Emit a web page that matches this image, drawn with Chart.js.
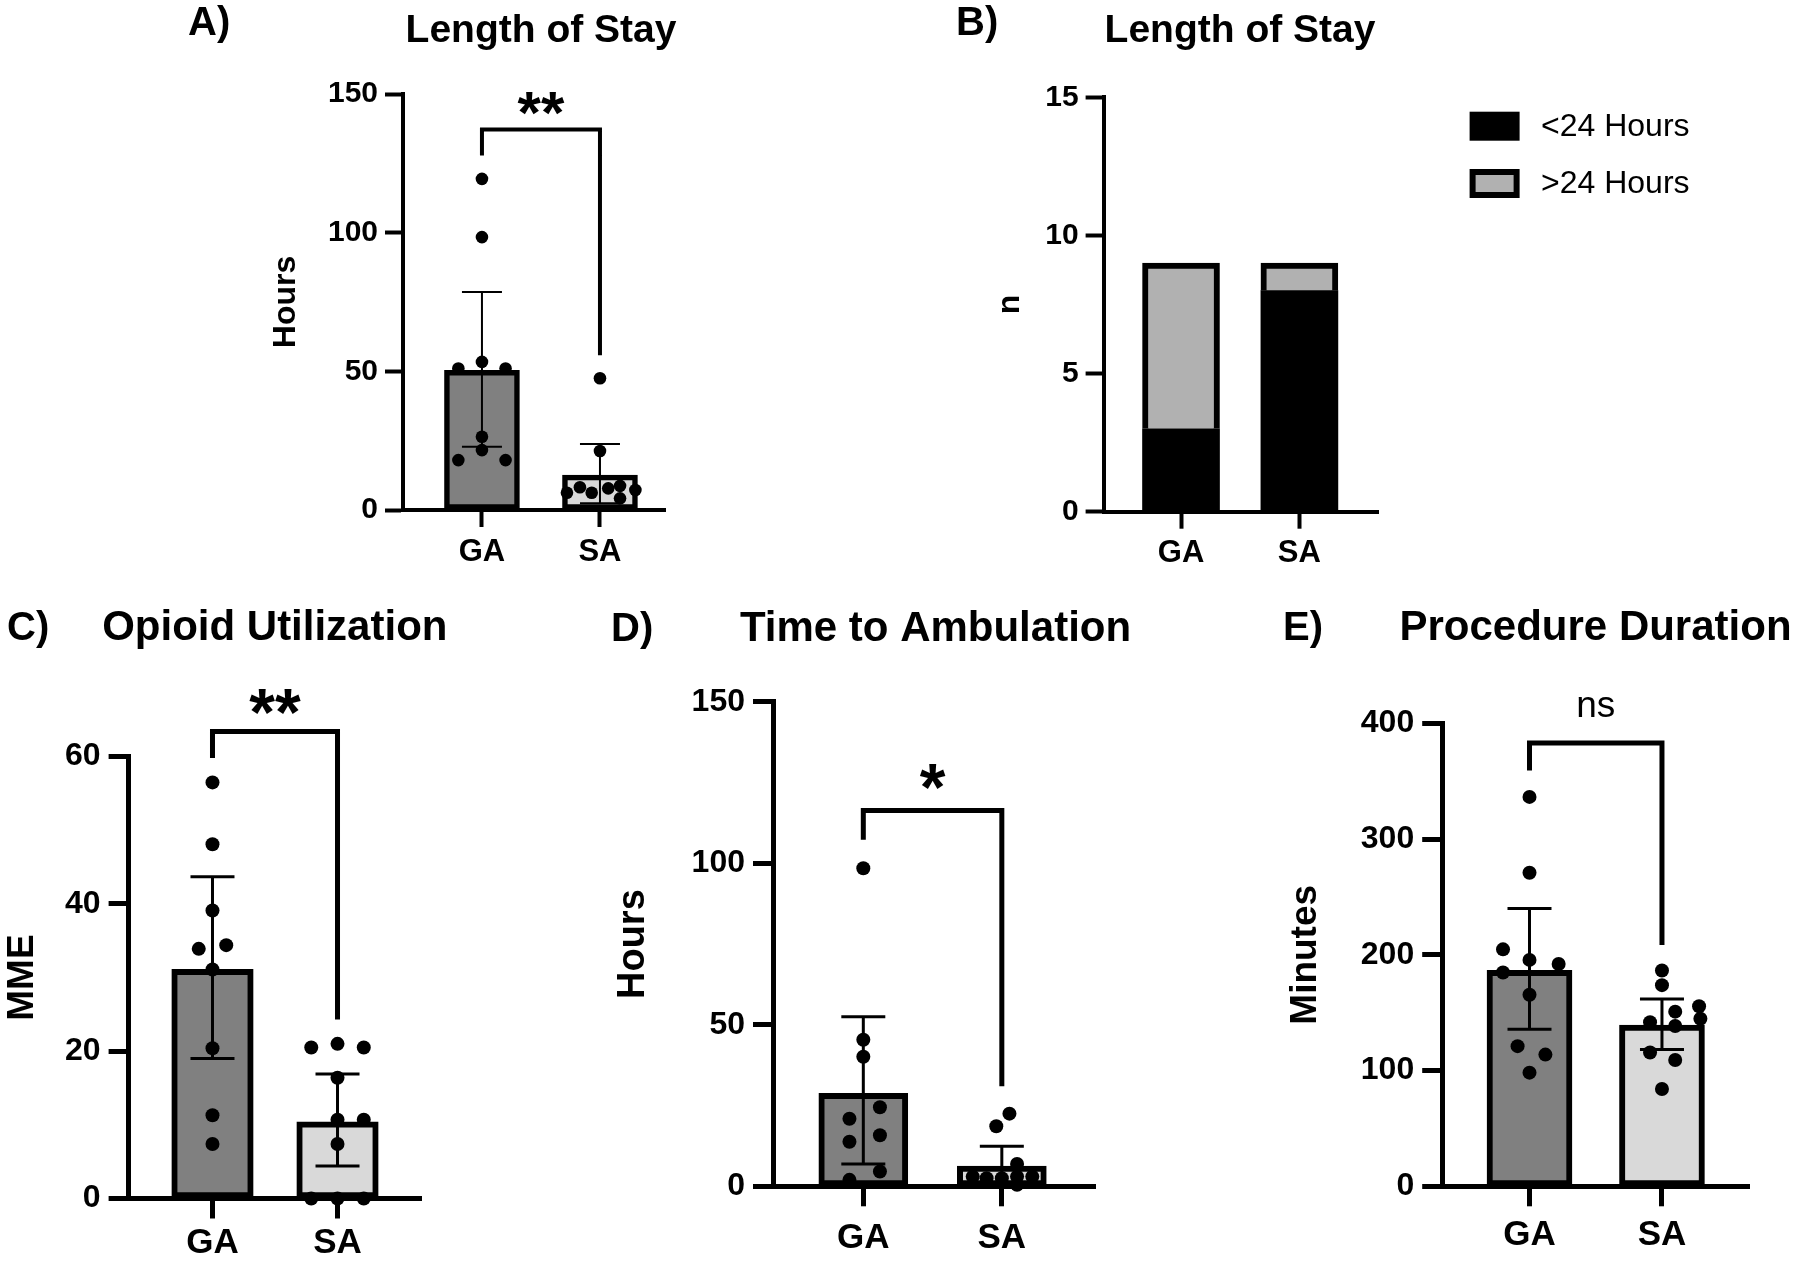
<!DOCTYPE html>
<html>
<head>
<meta charset="utf-8">
<script src="https://cdn.jsdelivr.net/npm/chart.js@4.4.1/dist/chart.umd.min.js"></script>
<style>
  html, body { margin: 0; padding: 0; background: #fff; }
  #page { position: relative; width: 1800px; height: 1261px; overflow: hidden; background: #fff; }
  .panel { position: absolute; }
</style>
</head>
<body>
<div id="page">
  <div class="panel" style="left:170px;top:0px"><canvas id="chartA" width="520" height="600"></canvas></div>
  <div class="panel" style="left:940px;top:0px"><canvas id="chartB" width="860" height="600"></canvas></div>
  <div class="panel" style="left:0px;top:590px"><canvas id="chartC" width="460" height="671"></canvas></div>
  <div class="panel" style="left:560px;top:590px"><canvas id="chartD" width="580" height="671"></canvas></div>
  <div class="panel" style="left:1240px;top:590px"><canvas id="chartE" width="560" height="671"></canvas></div>
</div>
<script>
const groups = ["GA", "SA"]

// A) length of stay, hours (one dot per patient)
const losGA = [119.4, 98.4, 53.4, 51, 51, 26.4, 21.6, 18, 18]
const losSA = [47.5, 21.3, 6.2, 8.2, 6.2, 7.8, 8.7, 4.2, 7.2]
const losJitterGA = [0, 0, 0, -0.2, 0.2, 0, 0, -0.2, 0.2]
const losJitterSA = [0, 0, -0.28, -0.17, -0.07, 0.07, 0.17, 0.17, 0.3]
const losMean = [50.4, 12.6]
const losErrLow = [22.8, 2.4]
const losErrHigh = [78.6, 23.8]
const losBracket = [127.8, 137.2, 55.8]
const losSig = "**"
const losSigY = 146.7

// B) length of stay split at 24 h, counts
const stayLabels = ["<24 Hours", ">24 Hours"]
const stayUnder24 = [3, 8]
const stayOver24 = [6, 1]

// C) opioid utilization, MME
const mmeGA = [56.5, 48.1, 39.1, 33.9, 34.4, 31.1, 20.4, 11.3, 7.4]
const mmeSA = [20.5, 21, 20.5, 16.4, 10.7, 10.7, 7.4, 0, 0, 0]
const mmeJitterGA = [0, 0, 0, -0.11, 0.11, 0, 0, 0, 0]
const mmeJitterSA = [-0.21, 0, 0.21, 0, 0, 0.21, 0, -0.21, 0, 0.21]
const mmeMean = [31.1, 10.4]
const mmeErrLow = [19.0, 4.4]
const mmeErrHigh = [43.7, 16.9]
const mmeBracket = [59.8, 63.4, 24.3]
const mmeSig = "**"
const mmeSigY = 67.5

// D) time to ambulation, hours
const ambGA = [98.5, 45.4, 40.1, 24.5, 20.9, 15.8, 13.8, 4.6, 2.0]
const ambSA = [22.5, 18.6, 6.9, 3.0, 2.5, 2.5, 3.0, 3.0, 0.5]
const ambJitterGA = [0, 0, 0, 0.12, -0.1, 0.12, -0.1, 0.12, -0.1]
const ambJitterSA = [0.055, -0.04, 0.11, -0.21, -0.11, 0, 0.11, 0.22, 0.11]
const ambMean = [28.8, 6.3]
const ambErrLow = [6.9, 0.3]
const ambErrHigh = [52.5, 12.4]
const ambBracket = [107.3, 116.4, 31.0]
const ambSig = "*"
const ambSigY = 126.8

// E) procedure duration, minutes
const durGA = [336.4, 270.9, 204.7, 195.6, 192, 184.7, 165.5, 121.1, 113.8, 98.2]
const durSA = [186.5, 173.8, 155.6, 150.9, 141.8, 144.7, 138.5, 115.6, 109.1, 84.0]
const durJitterGA = [0, 0, -0.2, 0, 0.22, -0.2, 0, -0.09, 0.12, 0]
const durJitterSA = [0, 0, 0.28, 0.1, -0.09, 0.29, 0.1, -0.09, 0.1, 0]
const durMean = [186.5, 139.3]
const durErrLow = [135.6, 118.2]
const durErrHigh = [240, 161.8]
const durBracket = [359.3, 382.9, 208.4]
const durSig = "ns"
const durSigY = 413.8

const FONT = '"Liberation Sans", Arial, Helvetica, sans-serif'
Chart.defaults.font.family = FONT
Chart.defaults.color = "#000"

const barColors = ["#808080", "#d9d9d9"]

// sizes of the two rows of the figure
const rowStyle = {
  top: { tick: 30, tickPad: 7, tickLen: 18, xTickLen: 17, xFont: 31, axis: 4, barBorder: 5.5, dot: 6.3, err: 2, cap: 40, bracket: 4, sig: 60, sigBold: true, title: 39, letter: 40 },
  bottom: { tick: 32, tickPad: 8, tickLen: 20, xTickLen: 20, xFont: 35, axis: 5, barBorder: 6, dot: 7, err: 3, cap: 44, bracket: 5, sig: 66, sigBold: true, title: 42, letter: 40 },
}

function dots(valsGA, jitGA, valsSA, jitSA) {
  return valsGA.map((v, i) => ({ x: jitGA[i], y: v }))
    .concat(valsSA.map((v, i) => ({ x: 1 + jitSA[i], y: v })))
}

function inkText(ctx, text, cx, cy) {
  const m = ctx.measureText(text)
  ctx.textAlign = "center"
  ctx.textBaseline = "alphabetic"
  ctx.fillText(text, cx, cy + (m.actualBoundingBoxAscent - m.actualBoundingBoxDescent) / 2)
}

// error bars, significance bracket, titles, legend
function annotate(p, st) {
  return {
    id: "annotate",
    afterDatasetDraw(chart, args) {
      if (!p.errLow || args.meta.type !== "bar") return
      const { ctx, scales: { x, y } } = chart
      const half = st.cap / 2
      ctx.save()
      ctx.strokeStyle = "#000"
      ctx.lineWidth = st.err
      p.errLow.forEach((lo, i) => {
        const px = x.getPixelForValue(i)
        const y0 = y.getPixelForValue(lo)
        const y1 = y.getPixelForValue(p.errHigh[i])
        ctx.beginPath()
        ctx.moveTo(px, y0); ctx.lineTo(px, y1)
        ctx.moveTo(px - half, y0); ctx.lineTo(px + half, y0)
        ctx.moveTo(px - half, y1); ctx.lineTo(px + half, y1)
        ctx.stroke()
      })
      ctx.restore()
    },
    afterDraw(chart) {
      const { ctx, scales: { x, y } } = chart
      ctx.save()
      ctx.fillStyle = "#000"
      ctx.strokeStyle = "#000"

      if (p.bracket) {
        const [lb, top, rb] = p.bracket
        const x0 = x.getPixelForValue(0)
        const x1 = x.getPixelForValue(1)
        ctx.lineWidth = st.bracket
        ctx.lineJoin = "miter"
        ctx.beginPath()
        ctx.moveTo(x0, y.getPixelForValue(lb))
        ctx.lineTo(x0, y.getPixelForValue(top))
        ctx.lineTo(x1, y.getPixelForValue(top))
        ctx.lineTo(x1, y.getPixelForValue(rb))
        ctx.stroke()
        const bold = p.sig === "ns" ? "" : "bold "
        ctx.font = bold + (p.sig === "ns" ? 37 : st.sig) + "px " + FONT
        inkText(ctx, p.sig, x.getPixelForValue(0.5), y.getPixelForValue(p.sigY))
      }

      ctx.textBaseline = "alphabetic"
      ctx.font = "bold " + st.title + "px " + FONT
      ctx.textAlign = "center"
      ctx.fillText(p.title, p.titleX, p.titleBase)
      ctx.font = "bold " + st.letter + "px " + FONT
      ctx.textAlign = "left"
      ctx.fillText(p.letter, p.letterX, p.letterBase)

      if (p.legend) {
        const L = p.legend
        ctx.font = "32px " + FONT
        chart.data.datasets.forEach((ds, i) => {
          const by = L.y + i * L.step
          ctx.fillStyle = "#000"
          ctx.fillRect(L.x, by, L.w, L.h)
          ctx.fillStyle = ds.backgroundColor
          ctx.fillRect(L.x + 6, by + 6, L.w - 12, L.h - 12)
          ctx.fillStyle = "#000"
          ctx.textAlign = "left"
          ctx.textBaseline = "middle"
          ctx.fillText(ds.label, L.textX, by + L.h / 2 + 1)
        })
      }
      ctx.restore()
    },
  }
}

function axes(p, st) {
  return {
    x: {
      type: "linear", min: p.xMin, max: p.xMax, offset: false, bounds: "data", stacked: !!p.stacked,
      afterBuildTicks: (s) => { s.ticks = groups.map((g, i) => ({ value: i })) },
      afterFit: (s) => { s.height = p.xAxisH },
      ticks: { callback: (v) => groups[v], font: { size: st.xFont, weight: "bold" }, padding: p.xPad, maxRotation: 0, minRotation: 0, autoSkip: false, color: "#000" },
      grid: { offset: false, drawOnChartArea: false, drawTicks: true, tickLength: st.xTickLen, tickWidth: st.axis, tickColor: "#000" },
      border: { display: true, color: "#000", width: st.axis },
    },
    y: {
      min: 0, max: p.yMax, stacked: !!p.stacked,
      afterFit: (s) => { s.width = p.yAxisW },
      ticks: { stepSize: p.yStep, font: { size: st.tick, weight: "bold" }, padding: st.tickPad, color: "#000" },
      grid: { drawOnChartArea: false, drawTicks: true, tickLength: st.tickLen, tickWidth: st.axis, tickColor: "#000" },
      border: { display: true, color: "#000", width: st.axis },
      title: { display: true, text: p.yTitle, color: "#000", font: { size: p.yTitleSize, weight: "bold" }, padding: { top: p.yTitlePad, bottom: 0 } },
    },
  }
}

function barDotPanel(id, p, st) {
  return new Chart(document.getElementById(id), {
    type: "bar",
    data: {
      datasets: [
        {
          type: "scatter",
          data: dots(p.ga, p.jitGA, p.sa, p.jitSA),
          backgroundColor: "#000",
          borderWidth: 0,
          pointRadius: st.dot,
          pointHoverRadius: st.dot,
          clip: false,
          order: 0,
        },
        {
          data: p.mean.map((m, i) => ({ x: i, y: m })),
          backgroundColor: barColors,
          borderColor: "#000",
          borderWidth: st.barBorder,
          borderSkipped: false,
          barThickness: p.barW,
          order: 1,
        },
      ],
    },
    options: {
      responsive: false,
      animation: false,
      events: [],
      layout: { padding: p.pad },
      plugins: { legend: { display: false }, tooltip: { enabled: false } },
      scales: axes(p, st),
    },
    plugins: [annotate(p, st)],
  })
}

barDotPanel("chartA", {
  ga: losGA, sa: losSA, jitGA: losJitterGA, jitSA: losJitterSA,
  mean: losMean, errLow: losErrLow, errHigh: losErrHigh,
  bracket: losBracket, sig: losSig, sigY: losSigY,
  yMax: 150, yStep: 50, yTitle: "Hours", yTitleSize: 32, yTitlePad: 96.8, yAxisW: 233,
  xMin: -0.669, xMax: 1.551, xAxisH: 70, xPad: 6.4, barW: 75,
  pad: { left: 0, right: 25, top: 94, bottom: 20 },
  title: "Length of Stay", titleX: 371, titleBase: 42, letter: "A)", letterX: 18, letterBase: 35,
}, rowStyle.top)

// B) stacked counts
const stB = rowStyle.top
const pB = {
  yMax: 15, yStep: 5, yTitle: "n", yTitleSize: 32, yTitlePad: 50.8, yAxisW: 163.6,
  xMin: -0.654, xMax: 1.664, xAxisH: 70, xPad: 6.4, stacked: true,
  title: "Length of Stay", titleX: 300, titleBase: 42, letter: "B)", letterX: 16, letterBase: 35,
  legend: { x: 529.6, y: 111.7, step: 57.3, w: 50, h: 29, textX: 601 },
}
new Chart(document.getElementById("chartB"), {
  type: "bar",
  data: {
    datasets: [
      {
        label: stayLabels[0],
        data: stayUnder24.map((v, i) => ({ x: i, y: v })),
        backgroundColor: "#000",
        borderWidth: 0,
        barThickness: 77,
      },
      {
        label: stayLabels[1],
        data: stayOver24.map((v, i) => ({ x: i, y: v })),
        backgroundColor: "#b1b1b1",
        borderColor: "#000",
        borderWidth: { top: 6, left: 6, right: 6, bottom: 0 },
        borderSkipped: false,
        barThickness: 77,
      },
    ],
  },
  options: {
    responsive: false,
    animation: false,
    events: [],
    layout: { padding: { left: 0, right: 422, top: 97.3, bottom: 18.3 } },
    plugins: { legend: { display: false }, tooltip: { enabled: false } },
    scales: axes(pB, stB),
  },
  plugins: [annotate(pB, stB)],
})

barDotPanel("chartC", {
  ga: mmeGA, sa: mmeSA, jitGA: mmeJitterGA, jitSA: mmeJitterSA,
  mean: mmeMean, errLow: mmeErrLow, errHigh: mmeErrHigh,
  bracket: mmeBracket, sig: mmeSig, sigY: mmeSigY,
  yMax: 60, yStep: 20, yTitle: "MME", yTitleSize: 37, yTitlePad: 0.8, yAxisW: 128.6,
  xMin: -0.671, xMax: 1.671, xAxisH: 60, xPad: 4, barW: 81.5,
  pad: { left: 0, right: 38.6, top: 166.6, bottom: 2.5 },
  title: "Opioid Utilization", titleX: 274.8, titleBase: 50, letter: "C)", letterX: 7, letterBase: 50,
}, rowStyle.bottom)

barDotPanel("chartD", {
  ga: ambGA, sa: ambSA, jitGA: ambJitterGA, jitSA: ambJitterSA,
  mean: ambMean, errLow: ambErrLow, errHigh: ambErrHigh,
  bracket: ambBracket, sig: ambSig, sigY: ambSigY,
  yMax: 150, yStep: 50, yTitle: "Hours", yTitleSize: 38, yTitlePad: 51.2, yAxisW: 213,
  xMin: -0.652, xMax: 1.677, xAxisH: 65, xPad: 11, barW: 89,
  pad: { left: 0, right: 44.4, top: 111.9, bottom: 9.7 },
  title: "Time to Ambulation", titleX: 375.5, titleBase: 51, letter: "D)", letterX: 51, letterBase: 51,
}, rowStyle.bottom)

barDotPanel("chartE", {
  ga: durGA, sa: durSA, jitGA: durJitterGA, jitSA: durJitterSA,
  mean: durMean, errLow: durErrLow, errHigh: durErrHigh,
  bracket: durBracket, sig: durSig, sigY: durSigY,
  yMax: 400, yStep: 100, yTitle: "Minutes", yTitleSize: 37, yTitlePad: 43.8, yAxisW: 202.2,
  xMin: -0.659, xMax: 1.663, xAxisH: 65, xPad: 8, barW: 85,
  pad: { left: 0, right: 50.2, top: 133.3, bottom: 9.7 },
  title: "Procedure Duration", titleX: 355.5, titleBase: 50, letter: "E)", letterX: 43, letterBase: 50,
}, rowStyle.bottom)
</script>
</body>
</html>
